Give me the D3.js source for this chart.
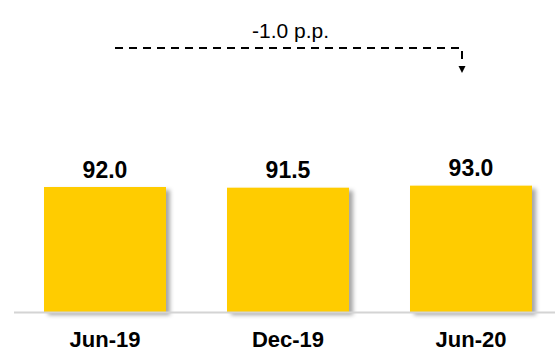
<!DOCTYPE html>
<html>
<head>
<meta charset="utf-8">
<script src="https://cdn.jsdelivr.net/npm/d3@7"></script>
<style>
  html, body { margin: 0; padding: 0; background: #fff; }
  svg { display: block; font-family: "Liberation Sans", Arial, sans-serif; }
</style>
</head>
<body>
<svg id="chart" width="555" height="351"></svg>
<script>
const categories = ["Jun-19", "Dec-19", "Jun-20"];
const values = [92.0, 91.5, 93.0];
const valueLabels = ["92.0", "91.5", "93.0"];
const annotationText = "-1.0 p.p.";

const W = 555, H = 351;
const svg = d3.select("#chart");

const defs = svg.append("defs");
const f = defs.append("filter").attr("id", "shadow")
  .attr("x", "-10%").attr("y", "-10%").attr("width", "130%").attr("height", "130%");
f.append("feDropShadow").attr("dx", 4).attr("dy", 3).attr("stdDeviation", 2)
  .attr("flood-color", "#000").attr("flood-opacity", 0.35);

const x = d3.scaleBand().domain(categories).range([13.5, 562.5])
  .paddingInner(1 / 3).paddingOuter(1 / 6);
const y = d3.scaleLinear().domain([0, 92]).range([312, 187]);

// bars
svg.append("g").selectAll("rect").data(values).join("rect")
  .attr("x", (d, i) => x(categories[i]))
  .attr("y", d => y(d))
  .attr("width", x.bandwidth())
  .attr("height", d => y(0) - y(d))
  .attr("fill", "#FFCC00")
  .attr("filter", "url(#shadow)");

// axis baseline
svg.append("line")
  .attr("x1", 14).attr("x2", W)
  .attr("y1", y(0) + 0.5).attr("y2", y(0) + 0.5)
  .attr("stroke", "#d4d4d4").attr("stroke-width", 2);

// value labels
svg.append("g").selectAll("text").data(values).join("text")
  .attr("x", (d, i) => x(categories[i]) + x.bandwidth() / 2)
  .attr("y", d => y(d) - 9.5)
  .attr("text-anchor", "middle")
  .attr("font-size", 23).attr("font-weight", "bold").attr("fill", "#000")
  .text((d, i) => valueLabels[i]);

// category labels
svg.append("g").selectAll("text").data(categories).join("text")
  .attr("x", d => x(d) + x.bandwidth() / 2)
  .attr("y", 347)
  .attr("text-anchor", "middle")
  .attr("font-size", 22).attr("font-weight", "bold").attr("fill", "#000")
  .text(d => d);

// annotation
const ax0 = x(categories[0]) + 71;
const ax1 = x(categories[2]) + 52;
const ay = 48;
svg.append("path")
  .attr("d", `M${ax0},${ay}H${ax1}V${ay + 16}`)
  .attr("fill", "none").attr("stroke", "#000").attr("stroke-width", 2)
  .attr("stroke-dasharray", "8,6");
svg.append("path")
  .attr("d", `M${ax1 - 3.5},${ay + 18}L${ax1 + 3.5},${ay + 18}L${ax1},${ay + 25}Z`)
  .attr("fill", "#000");
svg.append("text")
  .attr("x", (ax0 + ax1) / 2 + 2).attr("y", 37.5)
  .attr("text-anchor", "middle")
  .attr("font-size", 21).attr("fill", "#000")
  .text(annotationText);
</script>
</body>
</html>
